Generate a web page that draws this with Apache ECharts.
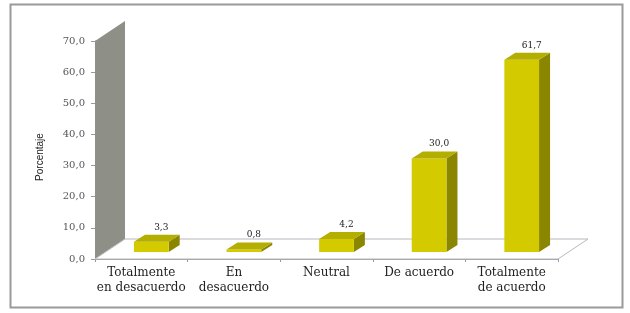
<!DOCTYPE html>
<html>
<head>
<meta charset="utf-8">
<script src="https://cdn.jsdelivr.net/npm/echarts@6/dist/echarts.min.js"></script>
<style>
  html, body { margin: 0; padding: 0; background: #fff; }
  #chart { width: 630px; height: 313px; }
</style>
</head>
<body>
<div id="chart"></div>
<script>
// categorías y porcentajes
var categories = ['Totalmente\nen desacuerdo', 'En\ndesacuerdo', 'Neutral', 'De acuerdo', 'Totalmente\nde acuerdo'];
var values = [3.3, 0.8, 4.2, 30.0, 61.7];
var yTicks = { min: 0, max: 70, interval: 10 };

function fmt(v) { return v.toFixed(1).replace('.', ','); }

var chart = echarts.init(document.getElementById('chart'));

// profundidad del "3D"
var WALL_DX = 30, WALL_DY = -20;   // profundidad del piso / pared
var BAR_OX = 10, BAR_OY = -7;      // desplazamiento de la barra dentro del piso
var BAR_DX = 11, BAR_DY = -7;      // profundidad de la barra

function renderBox(params, api) {
  var i = api.value(0), v = api.value(1);
  var base = api.coord([i, 0]);
  var top = api.coord([i, v]);
  var band = api.size([1, 0])[0];
  var w = band * 0.375;
  var x = base[0] - w / 2 + BAR_OX;
  var yb = base[1] + BAR_OY;
  var yt = top[1] + BAR_OY;
  return {
    type: 'group',
    children: [
      { type: 'polygon', shape: { points: [[x + w, yt], [x + w + BAR_DX, yt + BAR_DY], [x + w + BAR_DX, yb + BAR_DY], [x + w, yb]] },
        style: { fill: '#8a8600' } },
      { type: 'rect', shape: { x: x, y: yt, width: w, height: yb - yt },
        style: { fill: '#d3ca00' } },
      { type: 'polygon', shape: { points: [[x, yt], [x + BAR_DX, yt + BAR_DY], [x + w + BAR_DX, yt + BAR_DY], [x + w, yt]] },
        style: { fill: '#b4ae00' } },
      { type: 'text', x: x + w / 2 + 10, y: yt + BAR_DY - 3,
        style: { text: fmt(v), fill: '#222', font: '9px "DejaVu Serif"', align: 'center', verticalAlign: 'bottom' } }
    ]
  };
}

function renderWalls(params, api) {
  var cs = params.coordSys;
  var gx = cs.x, gy = cs.y, gw = cs.width, gh = cs.height;
  var by = gy + gh;
  return {
    type: 'group',
    children: [
      { type: 'polygon', shape: { points: [[gx, gy], [gx + WALL_DX, gy + WALL_DY], [gx + WALL_DX, by + WALL_DY], [gx, by]] },
        style: { fill: '#8e9088' } },
      { type: 'polygon', shape: { points: [[gx, by], [gx + WALL_DX, by + WALL_DY], [gx + gw + WALL_DX, by + WALL_DY], [gx + gw, by]] },
        style: { fill: '#fff', stroke: '#b8b8c0', lineWidth: 1 } }
    ]
  };
}

var option = {
  animation: false,
  graphic: [
    { type: 'rect', left: 8, top: 2, shape: { width: 612, height: 303 },
      style: { fill: 'none', stroke: '#9a9a9a', lineWidth: 2 } }
  ],
  grid: { left: 95, right: 72, top: 41, bottom: 54 },
  xAxis: {
    type: 'category',
    data: categories,
    axisLine: { show: true, lineStyle: { color: '#9a9a9a' } },
    axisTick: { show: true, length: 3, lineStyle: { color: '#9a9a9a' } },
    axisLabel: { fontFamily: 'DejaVu Serif', fontSize: 12, color: '#222', lineHeight: 15, margin: 6, interval: 0 },
    splitLine: { show: false }
  },
  yAxis: {
    type: 'value',
    min: yTicks.min, max: yTicks.max, interval: yTicks.interval,
    name: 'Porcentaje',
    nameLocation: 'middle',
    nameRotate: 90,
    nameGap: 50,
    nameTextStyle: { fontFamily: 'Liberation Sans', fontSize: 10, color: '#222', padding: [0, 14, 0, 0] },
    axisLine: { show: true, lineStyle: { color: '#8a8a8a' } },
    axisTick: { show: true, length: 4, lineStyle: { color: '#9a9a9a' } },
    axisLabel: { fontFamily: 'DejaVu Serif', fontSize: 10, color: '#555', margin: 10, formatter: fmt },
    splitLine: { show: false }
  },
  series: [
    { type: 'custom', z: 1, clip: false, renderItem: renderWalls, data: [[0, 0]], silent: true },
    { type: 'custom', z: 3, clip: false, renderItem: renderBox,
      encode: { x: 0, y: 1 },
      data: values.map(function (v, i) { return [i, v]; }) }
  ]
};

chart.setOption(option);
</script>
</body>
</html>
